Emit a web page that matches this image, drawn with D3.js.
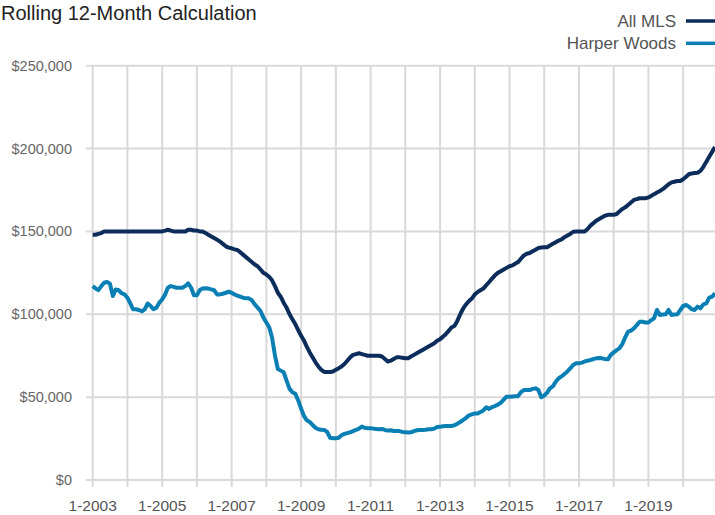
<!DOCTYPE html>
<html>
<head>
<meta charset="utf-8">
<title>Rolling 12-Month Calculation</title>
<script src="https://d3js.org/d3.v7.min.js"></script>
<style>
    body { margin: 0; background: #fff; }
    svg { display: block; font-family: "Liberation Sans", Arial, sans-serif; }
    .grid line { stroke: #d9d9d9; stroke-width: 2px; }
    .ylab { font-size: 14.5px; fill: #666; text-anchor: end; }
    .xlab { font-size: 15.5px; fill: #555; text-anchor: middle; }
    .legend text { font-size: 17px; fill: #555; text-anchor: end; }
</style>
</head>
<body>
<div id="chart"></div>
<script>
// monthly rolling 12-month median price, Jan 2003 .. Dec 2020
const startYear = 2003;
const seriesNames = ["All MLS", "Harper Woods"];
const seriesColors = ["#0c2d5c", "#0a7fb4"];

const allMls = [
    148000,148000,148500,149000,150000,150000,150000,150000,150000,150000,150000,150000,
    150000,150000,150000,150000,150000,150000,150000,150000,150000,150000,150000,150000,
    150000,150500,151000,150500,150000,150000,150000,150000,150000,151000,151000,150500,
    150500,150000,150000,149000,148000,147000,146000,145000,143800,142500,141000,140200,
    139800,139200,138800,137500,136000,134500,133000,131500,130000,129000,127000,125000,
    124000,122500,120500,117000,113000,110500,107000,104000,100000,97000,94000,90500,
    87000,84000,80500,77000,74000,71000,68500,66500,65200,65200,65200,65500,
    66500,67500,68500,70000,72000,74000,75500,76000,76500,76000,75500,75000,
    75000,75000,75000,75000,74500,73000,71500,72000,73000,74000,74000,73800,
    73500,73500,74500,75500,76500,77500,78500,79500,80500,81500,82500,84000,
    85000,86500,88000,90000,92000,93000,96000,100000,103500,106000,108000,109500,
    112000,113500,114500,115500,117500,119500,121500,123500,125000,126000,127000,128000,
    129000,129500,130500,131500,133500,135500,136500,137000,138000,139000,140000,140300,
    140400,140500,141500,142500,143500,144500,145200,146500,147500,148500,149800,150000,
    150000,150000,150000,151500,153500,155000,156500,157500,158500,159500,160000,160000,
    160000,160500,162000,163500,164500,166000,167500,169000,169500,170000,170000,170000,
    170500,171500,172500,173500,174400,175500,177000,178500,179600,180000,180400,180400,
    181500,183000,184500,185000,185200,185400,186500,189000,192000,195000,198000,201000
];

const harperWoods = [
    117000,115500,114600,117000,119000,119500,118500,111000,115000,114500,112700,112000,
    110000,106500,103000,103000,102600,101800,103000,106500,105000,103000,104000,107000,
    109000,112000,116000,117000,116500,116000,116000,116000,117000,118700,116000,111500,
    111500,114600,115500,115700,115500,115000,114500,112000,112000,112400,113000,113600,
    113000,112000,111200,110600,110000,109600,109600,108500,106000,104000,102000,98000,
    95000,92000,86000,75000,67000,66000,65000,60000,55000,53000,52000,48000,
    43000,38500,36000,35000,33200,31500,30600,30300,30200,29000,25500,25200,
    25200,25500,27000,27800,28300,28800,29500,30200,31000,32200,31500,31200,
    31200,31000,30800,30600,30800,30200,29800,30000,29600,29600,29500,29000,
    28800,28600,28800,29500,30000,30200,30200,30300,30600,30600,31000,32000,
    32200,32400,32600,32600,32600,33000,34000,35000,36200,37500,39000,39600,
    40200,40200,41000,42000,43900,42900,44000,44600,45500,46600,48500,50300,
    50300,50400,50500,50600,53000,54300,54300,54300,55000,55300,54300,49900,
    51000,52700,55300,56500,59300,61400,62500,64000,65500,67400,69400,70400,
    70400,70800,71500,72000,72400,73000,73400,73600,73400,73000,72800,75500,
    77000,78400,79400,82000,86000,89500,90100,91500,93500,95500,95500,95000,
    95000,96500,97600,102600,99600,99800,100000,102600,99600,99800,100000,102500,
    105000,105600,104600,103000,102600,104600,103600,106000,106600,110000,110600,112700
];

const yTicks = [0, 50000, 100000, 150000, 200000, 250000];
const xGridYears = d3.range(2003, 2021);
const xLabelYears = [2003, 2005, 2007, 2009, 2011, 2013, 2015, 2017, 2019];

const width = 715, height = 515;
const plotLeft = 92.7, plotRight = 715, plotTop = 65.7, plotBottom = 480;

const svg = d3.select("#chart").append("svg")
    .attr("width", width)
    .attr("height", height);

const dateOf = i => new Date(startYear, i, 1);

const x = d3.scaleTime()
    .domain([dateOf(0), dateOf(allMls.length - 1)])
    .range([plotLeft, plotRight]);

const y = d3.scaleLinear()
    .domain([0, 250000])
    .range([plotBottom, plotTop]);

// title
svg.append("text")
    .attr("x", 1)
    .attr("y", 20)
    .style("font-size", "20px")
    .style("fill", "#222")
    .text("Rolling 12-Month Calculation");

// grid
const grid = svg.append("g").attr("class", "grid");
grid.selectAll(".hline")
    .data(yTicks)
    .enter().append("line")
    .attr("x1", 86)
    .attr("x2", plotRight)
    .attr("y1", d => y(d))
    .attr("y2", d => y(d));

grid.selectAll(".vline")
    .data(xGridYears)
    .enter().append("line")
    .attr("x1", d => x(new Date(d, 0, 1)))
    .attr("x2", d => x(new Date(d, 0, 1)))
    .attr("y1", plotTop)
    .attr("y2", 487);

// axis labels
svg.selectAll(".ylab")
    .data(yTicks)
    .enter().append("text")
    .attr("class", "ylab")
    .attr("x", 72)
    .attr("y", d => y(d) + 5)
    .text(d => "$" + d3.format(",")(d));

svg.selectAll(".xlab")
    .data(xLabelYears)
    .enter().append("text")
    .attr("class", "xlab")
    .attr("x", d => x(new Date(d, 0, 1)))
    .attr("y", 511)
    .text(d => "1-" + d);

// lines
const line = d3.line()
    .x((d, i) => x(dateOf(i)))
    .y(d => y(d));

[allMls, harperWoods].forEach((vals, k) => {
    svg.append("path")
        .datum(vals)
        .attr("fill", "none")
        .attr("stroke", seriesColors[k])
        .attr("stroke-width", 4)
        .attr("stroke-linejoin", "round")
        .attr("d", line);
});

// legend
const legend = svg.append("g").attr("class", "legend");
const legendY = [21, 43.3];
seriesNames.forEach((name, k) => {
    legend.append("text")
        .attr("x", 676)
        .attr("y", legendY[k] + 6)
        .text(name);
    legend.append("line")
        .attr("x1", 686)
        .attr("x2", 716)
        .attr("y1", legendY[k])
        .attr("y2", legendY[k])
        .attr("stroke", seriesColors[k])
        .attr("stroke-width", 3.5);
});
</script>
</body>
</html>
